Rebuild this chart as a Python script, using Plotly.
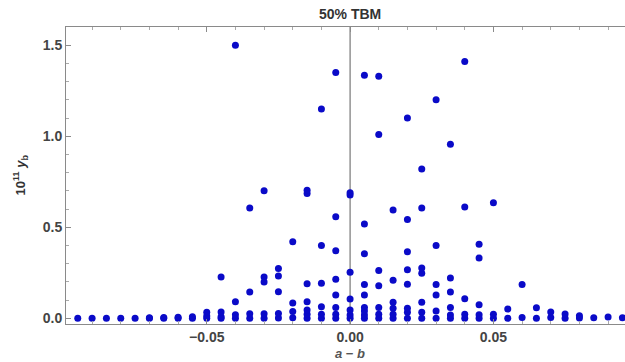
import plotly.graph_objects as go

# x positions of the point columns (a - b)
x_columns = [-0.095, -0.09, -0.085, -0.08, -0.075, -0.07, -0.065, -0.06, -0.055, -0.05,
             -0.045, -0.04, -0.035, -0.03, -0.025, -0.02, -0.015, -0.01, -0.005, 0.0,
             0.005, 0.01, 0.015, 0.02, 0.025, 0.03, 0.035, 0.04, 0.045, 0.05,
             0.055, 0.06, 0.065, 0.07, 0.075, 0.08, 0.085, 0.09, 0.095]

# 10^11 y_b values found in each column
y_columns = [
    [0.0], [0.0], [0.0], [0.0], [0.0],
    [0.0, 0.003], [0.0, 0.004], [0.0, 0.006], [0.0, 0.008],
    [0.0, 0.012, 0.033],
    [0.0, 0.009, 0.035, 0.227],
    [0.0, 0.02, 0.091, 1.50],
    [0.0, 0.025, 0.145, 0.606],
    [0.0, 0.025, 0.2, 0.227, 0.70],
    [0.002, 0.027, 0.146, 0.232, 0.273],
    [0.003, 0.038, 0.084, 0.42],
    [0.0, 0.022, 0.046, 0.091, 0.19, 0.685, 0.703],
    [0.0, 0.022, 0.064, 0.192, 0.40, 1.15],
    [0.0, 0.022, 0.06, 0.128, 0.214, 0.371, 0.558, 1.35],
    [0.0, 0.018, 0.046, 0.106, 0.253, 0.677, 0.69],
    [0.0, 0.018, 0.04, 0.06, 0.128, 0.185, 0.355, 0.518, 1.335],
    [0.0, 0.022, 0.06, 0.179, 0.262, 1.01, 1.33],
    [0.0, 0.022, 0.055, 0.088, 0.209, 0.595],
    [0.0, 0.033, 0.055, 0.187, 0.266, 0.366, 0.543, 1.10],
    [0.0, 0.033, 0.088, 0.247, 0.276, 0.606, 0.82],
    [0.0, 0.04, 0.128, 0.185, 0.40, 1.20],
    [0.0, 0.018, 0.06, 0.145, 0.221, 0.956],
    [0.0, 0.022, 0.107, 0.611, 1.41],
    [0.0, 0.02, 0.075, 0.331, 0.407],
    [0.0, 0.022, 0.635],
    [0.0, 0.051],
    [0.005, 0.186],
    [0.0, 0.058],
    [0.005, 0.035],
    [0.0, 0.024],
    [0.002, 0.014],
    [0.003], [0.007], [0.003],
]

x_tick_vals = [-0.05, 0.0, 0.05]
x_tick_text = ["\u22120.05", "0.00", "0.05"]
y_tick_vals = [0.0, 0.5, 1.0, 1.5]
y_tick_text = ["0.0", "0.5", "1.0", "1.5"]

xs, ys = [], []
for xc, col in zip(x_columns, y_columns):
    for yv in col:
        xs.append(xc)
        ys.append(yv)

frame = "#8a8a8a"
label_font = dict(family="Liberation Sans, Arial, sans-serif", size=14, color="#444444", weight="bold")

fig = go.Figure()
fig.add_trace(go.Scatter(
    x=xs, y=ys, mode="markers",
    marker=dict(size=7, color="#0a0ac8", line=dict(width=0)),
    showlegend=False, hoverinfo="x+y",
))

fig.add_shape(type="line", xref="x", yref="paper", x0=0, x1=0, y0=0, y1=1,
              line=dict(color="#777777", width=1.2), layer="below")

fig.update_layout(
    width=625, height=362,
    margin=dict(l=66, r=0, t=27, b=38),
    paper_bgcolor="white", plot_bgcolor="white",
    font=label_font,
    annotations=[
        dict(text="50% TBM", xref="x", yref="paper", x=0, y=1, yshift=3,
             xanchor="center", yanchor="bottom", showarrow=False,
             font=dict(family="Liberation Sans, Arial, sans-serif", size=14, color="#333333", weight="bold")),
        dict(text="<i>a</i> \u2212 <i>b</i>", xref="x", yref="paper", x=0, y=0, yshift=-20,
             xanchor="center", yanchor="top", showarrow=False,
             font=dict(family="Liberation Sans, Arial, sans-serif", size=13, color="#555555", weight="bold")),
        dict(text="10<sup>11</sup> <i>y</i><sub>b</sub>", xref="paper", yref="paper", x=0, y=0.5,
             xshift=-46, xanchor="center", yanchor="middle", textangle=-90, showarrow=False,
             font=dict(family="Liberation Sans, Arial, sans-serif", size=13, color="#333333", weight="bold")),
    ],
)

fig.update_xaxes(
    range=[-0.0991, 0.0959], showgrid=False, zeroline=False,
    showline=True, linecolor=frame, linewidth=1, mirror="ticks",
    ticks="inside", ticklen=5, tickcolor=frame, tickwidth=1,
    tickvals=x_tick_vals, ticktext=x_tick_text, tickfont=label_font,
    minor=dict(dtick=0.01, tick0=0, ticks="inside", ticklen=3, tickcolor="#aaaaaa", showgrid=False),
)
fig.update_yaxes(
    range=[-0.0313, 1.60], showgrid=False, zeroline=False,
    showline=True, linecolor=frame, linewidth=1, mirror=False,
    ticks="inside", ticklen=5, tickcolor=frame, tickwidth=1,
    tickvals=y_tick_vals, ticktext=y_tick_text, tickfont=label_font,
    minor=dict(dtick=0.1, tick0=0, ticks="inside", ticklen=3, tickcolor="#aaaaaa", showgrid=False),
)

fig.write_html("out.html", config={"displayModeBar": False},
               post_script="document.body.style.margin='0';")
